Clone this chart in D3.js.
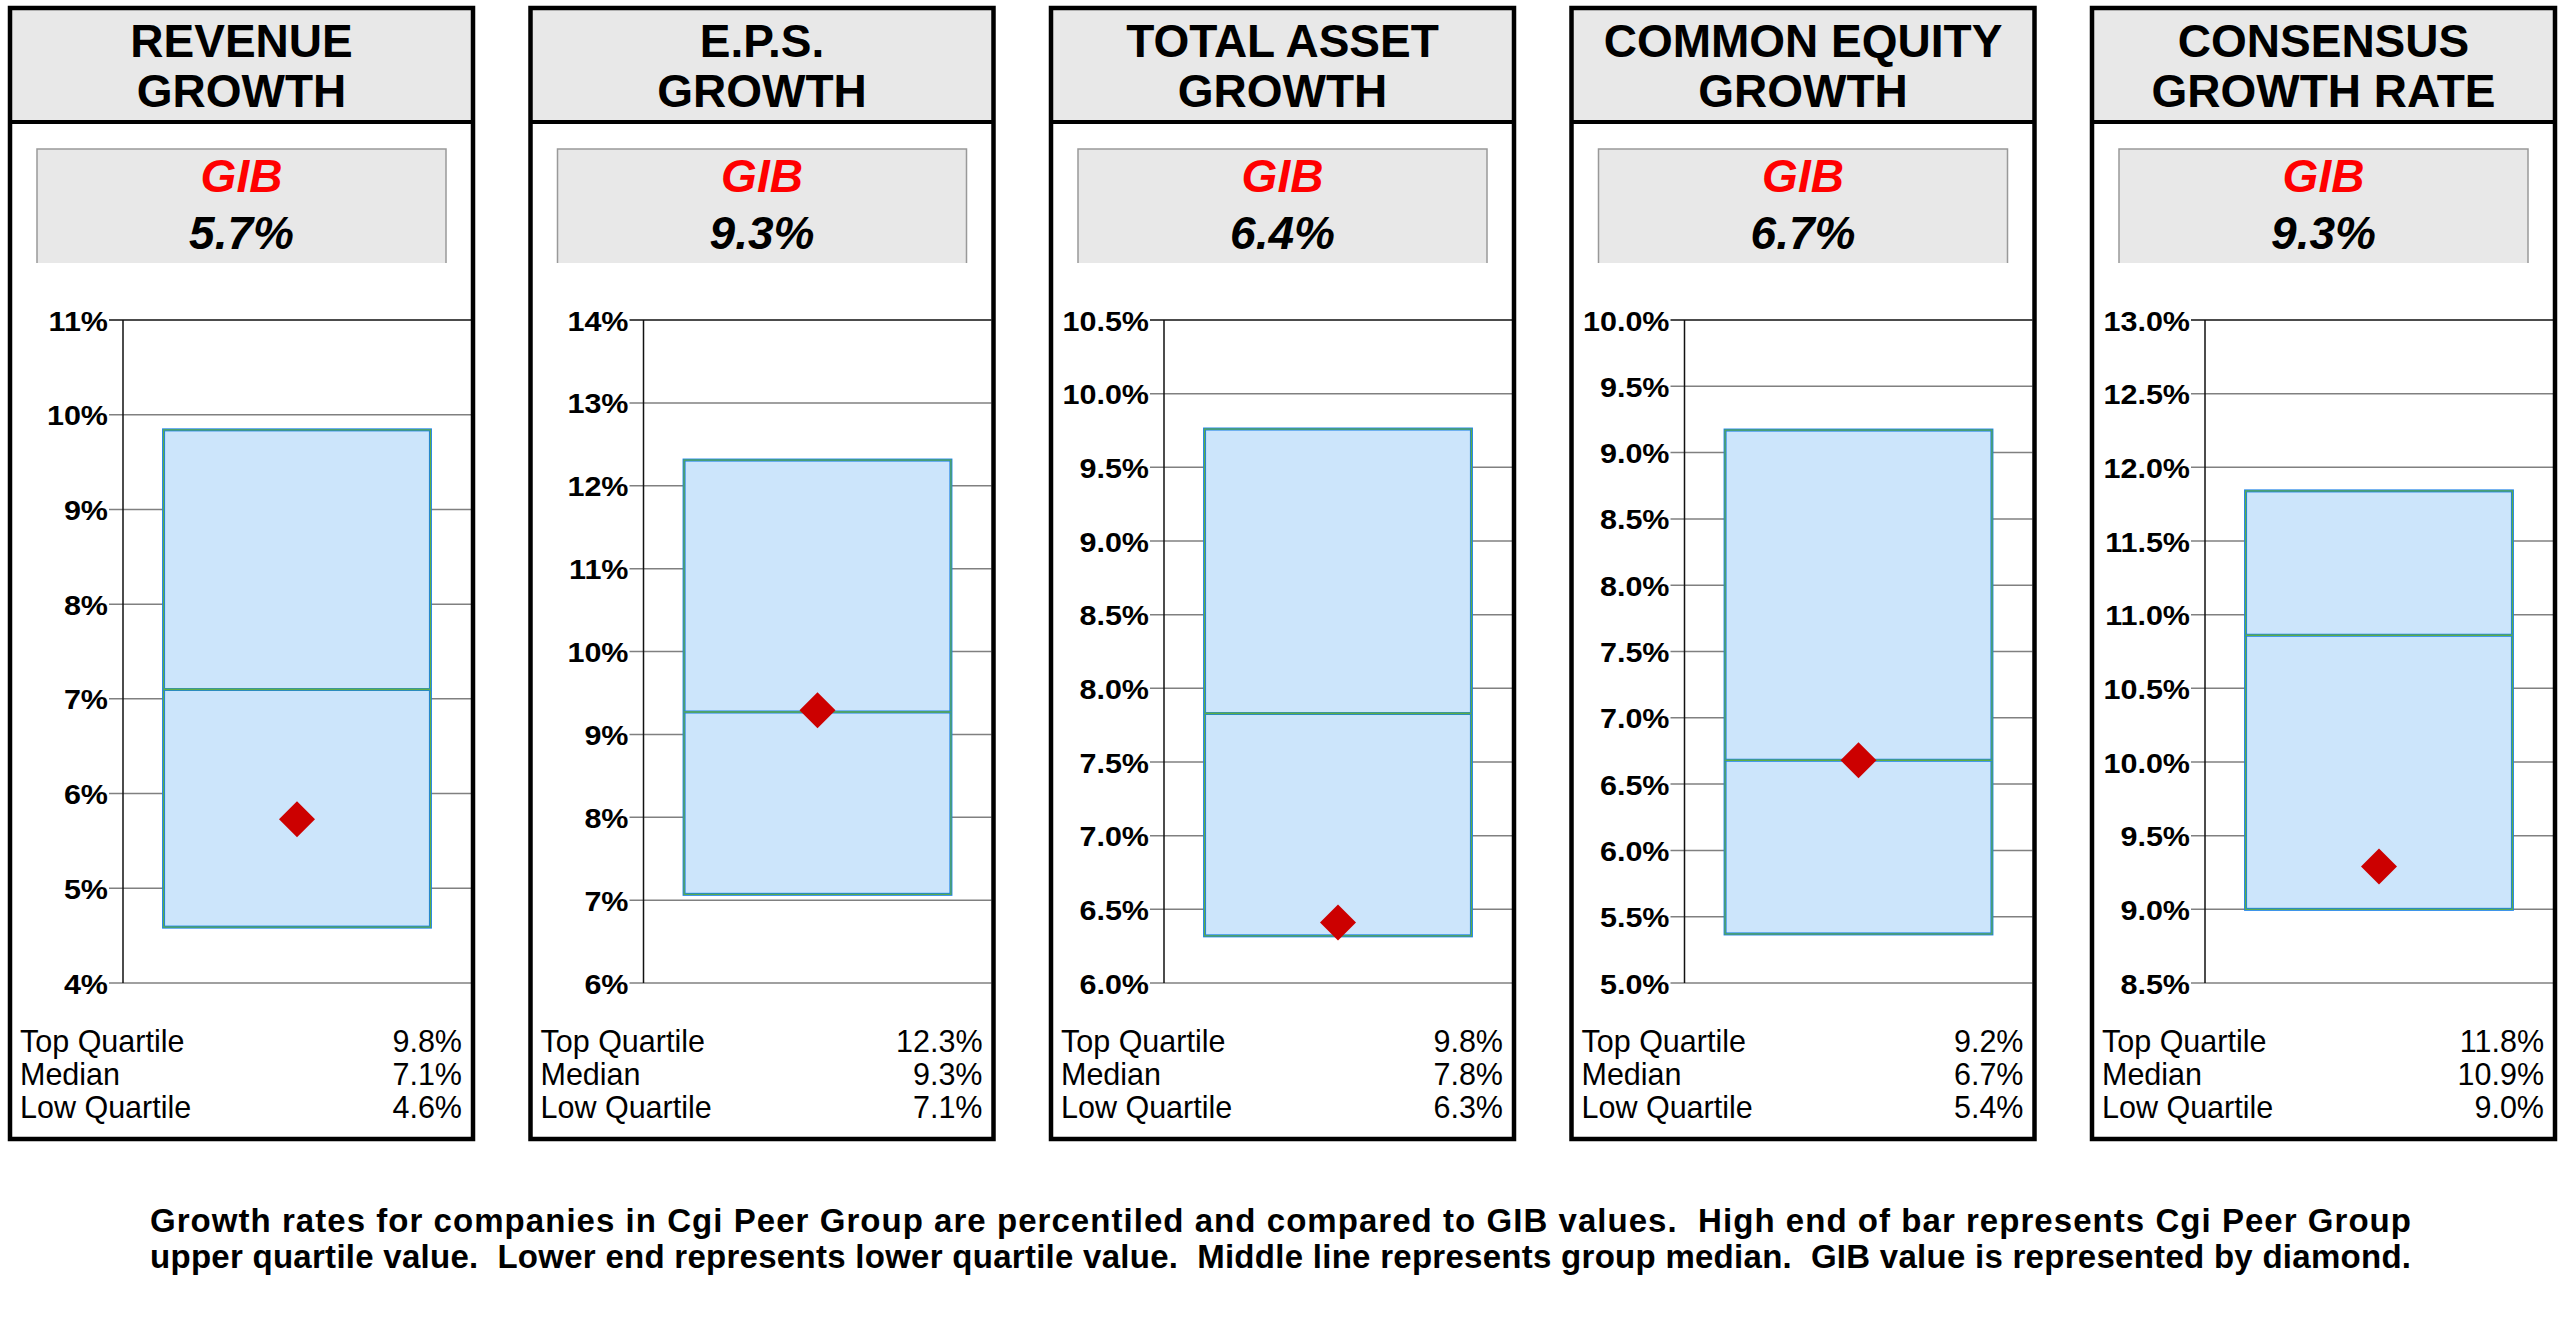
<!DOCTYPE html>
<html>
<head>
<meta charset="utf-8">
<script src="https://cdn.jsdelivr.net/npm/d3@7"></script>
<style>
  html, body { margin: 0; padding: 0; background: #fff; }
  svg { display: block; }
  text { font-family: "Liberation Sans", Arial, Helvetica, sans-serif; }
</style>
</head>
<body>
<svg id="chart" width="2560" height="1331"></svg>
<script>
// ---------------- DATA ----------------
const titlesLine1 = ["REVENUE", "E.P.S.", "TOTAL ASSET", "COMMON EQUITY", "CONSENSUS"];
const titlesLine2 = ["GROWTH", "GROWTH", "GROWTH", "GROWTH", "GROWTH RATE"];
const companyName = "GIB";
const gibValues      = [5.73, 9.29, 6.41, 6.68, 9.29];
const topQuartile    = [9.84, 12.31, 9.76, 9.17, 11.84];
const medianValues   = [7.10, 9.27, 7.83, 6.68, 10.86];
const lowQuartile    = [4.59, 7.07, 6.32, 5.37, 9.00];
const axisMin        = [4, 6, 6.0, 5.0, 8.5];
const axisMax        = [11, 14, 10.5, 10.0, 13.0];
const axisStep       = [1, 1, 0.5, 0.5, 0.5];
const tickDecimals   = [0, 0, 1, 1, 1];
const statLabels     = ["Top Quartile", "Median", "Low Quartile"];
const footerLines = [
  "Growth rates for companies in Cgi Peer Group are percentiled and compared to GIB values.  High end of bar represents Cgi Peer Group",
  "upper quartile value.  Lower end represents lower quartile value.  Middle line represents group median.  GIB value is represented by diamond."
];

// ---------------- LAYOUT ----------------
const svg = d3.select("#chart");
const panelX0 = 10, panelPitch = 520.5, panelW = 463, panelY = 8, panelH = 1131;
const plotLeft = 113, plotRight = 461, plotTop = 320, plotBottom = 983;
const blue = "#1a80e6", green = "#5fae45";

titlesLine1.forEach((t, i) => {
  const g = svg.append("g").attr("transform", `translate(${panelX0 + i * panelPitch},0)`);
  const cx = panelW / 2;

  // header
  g.append("rect").attr("x", 0).attr("y", panelY).attr("width", panelW).attr("height", 114)
    .attr("fill", "#e8e8e8");
  g.append("line").attr("x1", 0).attr("x2", panelW).attr("y1", 122).attr("y2", 122)
    .attr("stroke", "#000").attr("stroke-width", 4);
  g.append("text").attr("x", cx).attr("y", 57).attr("text-anchor", "middle")
    .attr("font-size", 46).attr("font-weight", "bold").text(t);
  g.append("text").attr("x", cx).attr("y", 107).attr("text-anchor", "middle")
    .attr("font-size", 46).attr("font-weight", "bold").text(titlesLine2[i]);

  // GIB box
  g.append("rect").attr("x", 27).attr("y", 149).attr("width", 409).attr("height", 114)
    .attr("fill", "#e8e8e8");
  g.append("path").attr("d", "M27,263V149H436V263").attr("fill", "none")
    .attr("stroke", "#999").attr("stroke-width", 1.5);
  g.append("text").attr("x", cx).attr("y", 192).attr("text-anchor", "middle")
    .attr("font-size", 46).attr("font-weight", "bold").attr("font-style", "italic")
    .attr("fill", "#ff0000").text(companyName);
  g.append("text").attr("x", cx).attr("y", 249).attr("text-anchor", "middle")
    .attr("font-size", 46).attr("font-weight", "bold").attr("font-style", "italic")
    .attr("fill", "#000").text(gibValues[i].toFixed(1) + "%");

  // scales
  const y = d3.scaleLinear().domain([axisMin[i], axisMax[i]]).range([plotBottom, plotTop]);
  const x = d3.scaleBand().domain([t]).range([plotLeft, plotRight]).padding(0.132);
  const ticks = d3.range(axisMin[i], axisMax[i] + axisStep[i] / 2, axisStep[i]);

  // gridlines
  g.append("g").selectAll("line").data(ticks).join("line")
    .attr("x1", plotLeft - 14).attr("x2", plotRight)
    .attr("y1", d => y(d)).attr("y2", d => y(d))
    .attr("stroke", (d, k) => k === ticks.length - 1 ? "#111" : "#808080")
    .attr("stroke-width", 1.5);

  // axis
  const axis = d3.axisLeft(y).tickValues(ticks).tickSize(0).tickPadding(15)
    .tickFormat(d => d.toFixed(tickDecimals[i]) + "%");
  const ag = g.append("g").attr("transform", `translate(${plotLeft},0)`).call(axis);
  ag.select(".domain").remove();
  ag.selectAll("text").attr("font-size", 28).attr("font-weight", "bold")
    .attr("fill", "#000").attr("dy", "0.36em")
    .style("font-family", '"Liberation Sans", Arial, sans-serif')
    .each(function () {
      const w = this.getComputedTextLength();
      d3.select(this).attr("textLength", w * 1.09).attr("lengthAdjust", "spacingAndGlyphs");
    });
  g.append("line").attr("x1", plotLeft).attr("x2", plotLeft).attr("y1", plotTop).attr("y2", plotBottom)
    .attr("stroke", "#111").attr("stroke-width", 1.5);

  // bar
  const bx = x(t), bw = x.bandwidth();
  const yTop = y(topQuartile[i]), yLow = y(lowQuartile[i]), yMed = y(medianValues[i]);
  g.append("rect").attr("x", bx).attr("y", yTop).attr("width", bw).attr("height", yLow - yTop)
    .attr("fill", "#cce5fb").attr("stroke", blue).attr("stroke-width", 3);
  g.append("rect").attr("x", bx).attr("y", yTop).attr("width", bw).attr("height", yLow - yTop)
    .attr("fill", "none").attr("stroke", green).attr("stroke-width", 1.2);
  g.append("line").attr("x1", bx).attr("x2", bx + bw).attr("y1", yMed).attr("y2", yMed)
    .attr("stroke", blue).attr("stroke-width", 3);
  g.append("line").attr("x1", bx).attr("x2", bx + bw).attr("y1", yMed).attr("y2", yMed)
    .attr("stroke", green).attr("stroke-width", 1.6);

  // diamond
  const dx = bx + bw / 2, dy = y(gibValues[i]), r = 18;
  g.append("path").attr("d", `M${dx},${dy - r}L${dx + r},${dy}L${dx},${dy + r}L${dx - r},${dy}Z`)
    .attr("fill", "#cc0000");

  // stats
  const statVals = [topQuartile[i], medianValues[i], lowQuartile[i]];
  const statBase = [1052, 1085, 1118];
  statLabels.forEach((lbl, k) => {
    g.append("text").attr("x", 10).attr("y", statBase[k]).attr("font-size", 30.5).attr("fill", "#000").text(lbl);
    g.append("text").attr("x", 452).attr("y", statBase[k]).attr("text-anchor", "end").attr("font-size", 30.5)
      .attr("fill", "#000").text(statVals[k].toFixed(1) + "%");
  });

  // panel border
  g.append("rect").attr("x", 0).attr("y", panelY).attr("width", panelW).attr("height", panelH)
    .attr("fill", "none").attr("stroke", "#000").attr("stroke-width", 4.5);
});

// footer
const footerWidth = 2261;
footerLines.forEach((line, k) => {
  const tx = svg.append("text").attr("x", 150).attr("y", 1232 + k * 36)
    .attr("font-size", 30).attr("font-weight", "bold")
    .style("white-space", "pre")
    .text(line);
  const natural = tx.node().getComputedTextLength();
  const fs = Math.min(33, 30 * footerWidth / natural * 0.985);
  tx.attr("font-size", fs).attr("textLength", footerWidth).attr("lengthAdjust", "spacing");
});
</script>
</body>
</html>
